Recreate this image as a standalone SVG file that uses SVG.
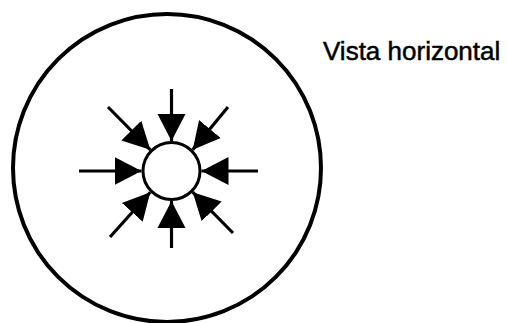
<svg xmlns="http://www.w3.org/2000/svg" width="507" height="323" viewBox="0 0 507 323">
<style>
.outer{fill:none;stroke:#000;stroke-width:4}
.inner{fill:#fff;stroke:#000;stroke-width:3}
.arr{stroke:#000;stroke-width:3.2;fill:none;marker-end:url(#head)}
.lbl{font-family:"Liberation Sans",Arial,sans-serif;font-size:26px;fill:#000;stroke:#000;stroke-width:0.5}
</style>
<defs>
<marker id="head" markerUnits="userSpaceOnUse" markerWidth="30" markerHeight="30" refX="27" refY="14" orient="auto" viewBox="0 0 30 28">
<path d="M0,0 L27,14 L0,28 Z" fill="#000"/>
</marker>
</defs>
<rect width="507" height="323" fill="#fff"/>
<g id="outer-circle"><circle class="outer" cx="167" cy="168" r="154"/></g>
<g id="connectors">
<line class="arr" x1="171.5" y1="89" x2="171.5" y2="141"/>
<line class="arr" x1="171.5" y1="248" x2="171.5" y2="201"/>
<line class="arr" x1="79" y1="171" x2="141.5" y2="171"/>
<line class="arr" x1="258" y1="171" x2="201.5" y2="171"/>
<line class="arr" x1="108" y1="107" x2="150.3" y2="149.8"/>
<line class="arr" x1="228" y1="107" x2="192.7" y2="149.8"/>
<line class="arr" x1="110" y1="237" x2="150.3" y2="192.2"/>
<line class="arr" x1="233" y1="233" x2="192.7" y2="192.2"/>
</g>
<g id="inner-circle"><circle class="inner" cx="171.5" cy="171" r="28.5"/></g>
<g id="label"><text class="lbl" x="323" y="60">Vista horizontal</text></g>
</svg>
